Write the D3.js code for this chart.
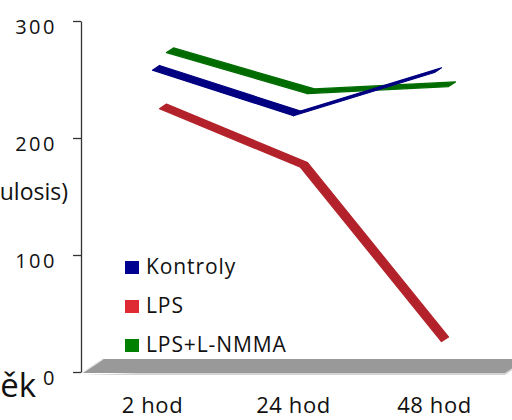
<!DOCTYPE html>
<html><head><meta charset="utf-8">
<script src="https://cdn.jsdelivr.net/npm/d3@7"></script>
<style>
html,body{margin:0;padding:0;background:#fff;}
svg{display:block;font-family:"Open Sans",sans-serif;}
</style></head>
<body>
<svg id="chart" width="512" height="420"></svg>
<script>
const categories = ["2 hod", "24 hod", "48 hod"];
const seriesNames = ["Kontroly", "LPS", "LPS+L-NMMA"];
const kontroly = [258, 219, 256];
const lps = [221, 171, 22];
const lpsNmma = [265, 230, 236];
const yTicks = [0, 100, 200, 300];

const series = [
  {name: seriesNames[0], values: kontroly, color: "#000080", legend: "#000090", depth: 0},
  {name: seriesNames[1], values: lps, color: "#b3222a", legend: "#e02a33", depth: 1},
  {name: seriesNames[2], values: lpsNmma, color: "#006c00", legend: "#008000", depth: 2}
];

const svg = d3.select("#chart");
const x = d3.scaleBand().domain(categories).range([82, 505]).padding(0);
const y = d3.scaleLinear().domain([0, 300]).range([372, 21]);
const D = {dx: 21, dy: -14};
const nRows = 3;
const step = {dx: D.dx / nRows, dy: D.dy / nRows};

// left cut-off texts
svg.append("text").attr("x", 68).attr("y", 200).attr("text-anchor", "end")
  .attr("font-size", 23).attr("fill", "#111").text("ulosis)");
svg.append("text").attr("x", 36).attr("y", 397).attr("text-anchor", "end")
  .attr("font-size", 33).attr("fill", "#111").text("ěk");

// floor
const x0 = x.range()[0], x1 = x.range()[1], yb = y(0) + 1;
svg.append("polygon")
  .attr("points", [[x0, yb + 2], [x1, yb + 2], [x1 + D.dx, yb + 2 + D.dy], [x1 + D.dx, yb + D.dy]].map(p => p.join(",")).join(" "))
  .attr("fill", "#d4d4d4");
svg.append("polygon")
  .attr("points", [[x0, yb], [x1, yb], [x1 + D.dx, yb + D.dy], [x0 + D.dx, yb + D.dy]].map(p => p.join(",")).join(" "))
  .attr("fill", "#999999");
svg.append("line").attr("x1", x0).attr("y1", yb).attr("x2", x0 + D.dx).attr("y2", yb + D.dy)
  .attr("stroke", "#e6e6e6").attr("stroke-width", 1.5);

// axis
const axis = d3.axisLeft(y).tickValues(yTicks).tickSize(8).tickSizeOuter(0).tickFormat(d3.format("d"));
const ag = svg.append("g").attr("transform", "translate(81,0)").call(axis);
ag.select(".domain").attr("stroke", "#333").attr("stroke-width", 1.3);
ag.selectAll(".tick line").attr("stroke", "#333").attr("stroke-width", 1.3);
ag.selectAll(".tick text").attr("font-family", "Open Sans").attr("font-size", 20)
  .attr("fill", "#111").attr("x", -24).attr("dy", "0.95em").attr("y", -7)
  .attr("letter-spacing", 2.5);

// ribbons (back to front)
const ribbons = svg.append("g");
series.slice().sort((a, b) => b.depth - a.depth).forEach(s => {
  const ox = s.depth * step.dx, oy = s.depth * step.dy;
  const pts = s.values.map((v, i) => [x(categories[i]) + x.bandwidth() / 2 + ox, y(v) + oy]);
  const g = ribbons.append("g");
  for (let i = 0; i < pts.length - 1; i++) {
    const a = pts[i], b = pts[i + 1];
    const quad = [a, b, [b[0] + step.dx, b[1] + step.dy], [a[0] + step.dx, a[1] + step.dy]];
    g.append("polygon").attr("points", quad.map(p => p.join(",")).join(" "))
      .attr("fill", s.color).attr("stroke", s.color).attr("stroke-width", 1.2)
      .attr("stroke-linejoin", "round");
  }
});

// x labels
svg.append("g").selectAll("text").data(categories).join("text")
  .attr("x", d => x(d) + x.bandwidth() / 2)
  .attr("y", 413).attr("text-anchor", "middle")
  .attr("font-size", 22).attr("letter-spacing", 0.6).attr("fill", "#111")
  .text(d => d);

// legend
const lg = svg.append("g");
series.forEach((s, i) => {
  const by = 274 + i * 39;
  lg.append("rect").attr("x", 125).attr("y", by - 13).attr("width", 14).attr("height", 13).attr("fill", s.legend);
  lg.append("text").attr("x", 146).attr("y", by).attr("font-size", 21)
    .attr("letter-spacing", 0.9).attr("fill", "#111").text(s.name);
});
</script>
</body></html>
